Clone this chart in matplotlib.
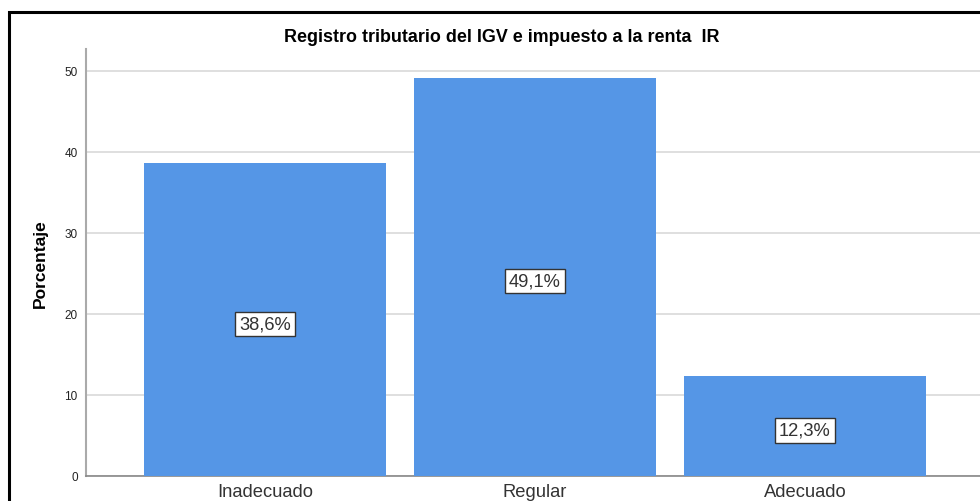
import matplotlib
matplotlib.use("Agg")
import matplotlib.pyplot as plt
from matplotlib.patches import Rectangle

categories = ["Inadecuado", "Regular", "Adecuado"]
values = [38.6, 49.1, 12.3]
labels = ["38,6%", "49,1%", "12,3%"]
yticks = [0, 10, 20, 30, 40, 50]
title = "Registro tributario del IGV e impuesto a la renta  IR"

plt.rcParams['font.family'] = ['Liberation Sans', 'DejaVu Sans']

fig = plt.figure(figsize=(9.8, 5.02), dpi=100)
W, H = 980, 502

# outer frame
fig.patches.append(Rectangle((9 / W, -0.1), 1.2, (H - 13) / H + 0.1, transform=fig.transFigure,
                             fill=False, edgecolor='black', linewidth=2.2, zorder=0))

ax = fig.add_axes([86 / W, 25 / H, 898 / W, 427 / H])
x = list(range(len(categories)))
ax.bar(x, values, width=0.896, color='#5596E6', zorder=3)
ax.set_xlim(-0.663, 2.663)
ax.set_ylim(0, 52.7)
ax.set_yticks(yticks)
ax.set_yticklabels([str(t) for t in yticks], fontsize=8.5, color='#222222')
ax.set_xticks(x)
ax.set_xticklabels(categories, fontsize=13.2, color='#333333')
ax.tick_params(axis='y', length=0, pad=6)
ax.tick_params(axis='x', length=0, pad=5)
ax.grid(axis='y', color='#D9D9D9', linewidth=1.2, zorder=0)
for s in ['top', 'right']:
    ax.spines[s].set_visible(False)
ax.spines['left'].set_color('#AAAAAA')
ax.spines['left'].set_linewidth(1.5)
ax.spines['bottom'].set_color('#888888')
ax.spines['bottom'].set_linewidth(1.2)
ax.set_ylabel("Porcentaje", fontsize=12.5, fontweight='bold', labelpad=12)

for xi, v, lab in zip(x, values, labels):
    ax.annotate(lab, (xi, v / 2), xytext=(0, -3), textcoords='offset points',
                ha='center', va='center', fontsize=13.2, color='#333333', zorder=4,
                bbox=dict(boxstyle='square,pad=0.2', facecolor='white', edgecolor='#333333', linewidth=1))

fig.text(502 / W, 1 - 38 / H, title, ha='center', va='center', fontsize=12.9, fontweight='bold')

fig.savefig("out.png", dpi=100)
